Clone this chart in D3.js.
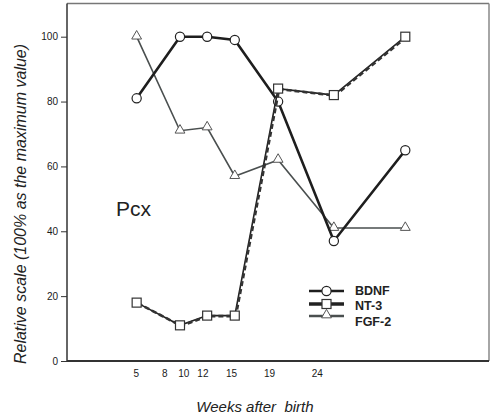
<!DOCTYPE html>
<html><head><meta charset="utf-8">
<script src="https://cdn.jsdelivr.net/npm/d3@7/dist/d3.min.js"></script>
<style>
body{margin:0;background:#fff;}
svg{display:block;font-family:"Liberation Sans",Arial,sans-serif;}
</style></head>
<body><svg id="c" width="490" height="420"></svg>
<script>
// ---- data ----
const tickWeeks = [5, 8, 10, 12, 15, 19, 24];
const pointWeeks = [5.1, 9.65, 12.5, 15.4, 19.95, 25.8, 33.3];
const bdnf = [81, 100, 100, 99, 80, 37, 65];
const nt3 = [18, 11, 14, 14, 84, 82, 100];
const fgf2 = [100, 71, 72, 57, 62, 41, 41];
const yTicks = [0, 20, 40, 60, 80, 100];

const svg = d3.select("#c");
const L = 67, R = 489, T = 3.5, B = 361;
const x = d3.scaleLinear().domain([5, 24]).range([135.7, 316.7]);
const y = d3.scaleLinear().domain([0, 100]).range([B, 36.7]);

// frame
svg.append("line").attr("x1", L).attr("x2", R).attr("y1", T).attr("y2", T).attr("stroke", "#777").attr("stroke-width", 1.5);
svg.append("line").attr("x1", R).attr("x2", R).attr("y1", T).attr("y2", B).attr("stroke", "#888").attr("stroke-width", 1.5);

// y axis
const yAxis = d3.axisLeft(y).tickValues(yTicks).tickSize(6).tickPadding(3);
const gy = svg.append("g").attr("transform", `translate(${L},0)`).call(yAxis);
gy.select(".domain").attr("d", `M0,${T}V${B}`).attr("stroke", "#333").attr("stroke-width", 1.5);
gy.selectAll(".tick line").attr("stroke", "#333");
gy.selectAll(".tick text").attr("font-size", 10).attr("fill", "#1a1a1a").attr("font-family", "Liberation Sans, Arial, sans-serif");

// x axis
const xAxis = d3.axisBottom(x).tickValues(tickWeeks).tickSize(0).tickPadding(9);
const gx = svg.append("g").attr("transform", `translate(0,${B})`).call(xAxis);
gx.select(".domain").attr("d", `M${L},0H${R}`).attr("stroke", "#333").attr("stroke-width", 2.2);
gx.selectAll(".tick text").attr("font-size", 10).attr("fill", "#1a1a1a").attr("font-family", "Liberation Sans, Arial, sans-serif");

const line = d3.line().x((d, i) => x(pointWeeks[i])).y(d => y(d));

// FGF-2
svg.append("path").datum(fgf2).attr("d", line).attr("fill", "none").attr("stroke", "#4a4f4f").attr("stroke-width", 1.6);
const tri = d3.symbol().type(d3.symbolTriangle).size(42);
svg.selectAll(".tri").data(fgf2).enter().append("path")
  .attr("transform", (d, i) => `translate(${x(pointWeeks[i])},${y(d) - 0.5})`)
  .attr("d", tri).attr("fill", "#fff").attr("stroke", "#555").attr("stroke-width", 1);

// BDNF
svg.append("path").datum(bdnf).attr("d", line).attr("fill", "none").attr("stroke", "#1e1e1e").attr("stroke-width", 2.6);
svg.selectAll(".circ").data(bdnf).enter().append("circle")
  .attr("cx", (d, i) => x(pointWeeks[i])).attr("cy", d => y(d)).attr("r", 4.6)
  .attr("fill", "#fff").attr("stroke", "#222").attr("stroke-width", 1.2);

// NT-3
svg.append("path").datum(nt3).attr("d", line).attr("fill", "none").attr("stroke", "#222").attr("stroke-width", 1.6);
svg.append("path").datum(nt3).attr("d", line).attr("fill", "none").attr("stroke", "#333").attr("stroke-width", 2.6)
  .attr("stroke-dasharray", "5,3").attr("transform", "translate(1,0.5)");
svg.selectAll(".sq").data(nt3).enter().append("rect")
  .attr("x", (d, i) => x(pointWeeks[i]) - 4.5).attr("y", d => y(d) - 4.5).attr("width", 9).attr("height", 9)
  .attr("fill", "#fff").attr("stroke", "#333").attr("stroke-width", 1.2);

// Pcx
svg.append("text").attr("x", 116).attr("y", 216).attr("font-size", 21).attr("fill", "#222").text("Pcx");

// legend
const lx1 = 309, lx2 = 344, lxc = 326.5;
svg.append("line").attr("x1", lx1).attr("x2", lx2).attr("y1", 291).attr("y2", 291).attr("stroke", "#1e1e1e").attr("stroke-width", 2.6);
svg.append("circle").attr("cx", lxc).attr("cy", 291).attr("r", 4.6).attr("fill", "#fff").attr("stroke", "#222").attr("stroke-width", 1.2);
svg.append("line").attr("x1", lx1).attr("x2", lx2).attr("y1", 304).attr("y2", 304).attr("stroke", "#222").attr("stroke-width", 3.6);
svg.append("rect").attr("x", lxc - 4.5).attr("y", 299.5).attr("width", 9).attr("height", 9).attr("fill", "#fff").attr("stroke", "#333").attr("stroke-width", 1.2);
svg.append("line").attr("x1", lx1).attr("x2", lx2).attr("y1", 316).attr("y2", 316).attr("stroke", "#4a4f4f").attr("stroke-width", 2.6);
svg.append("path").attr("transform", `translate(${lxc},${315})`).attr("d", tri).attr("fill", "#fff").attr("stroke", "#555").attr("stroke-width", 1);
const legNames = ["BDNF", "NT-3", "FGF-2"];
const legY = [295, 310, 325.5];
svg.selectAll(".lt").data(legNames).enter().append("text")
  .attr("x", 355).attr("y", (d, i) => legY[i]).attr("font-size", 12.5).attr("font-weight", "bold").attr("fill", "#222").text(d => d);

// axis titles
svg.append("text").attr("x", 255).attr("y", 412).attr("text-anchor", "middle").attr("font-size", 15)
  .attr("font-style", "italic").attr("fill", "#222").style("white-space", "pre").text("Weeks after  birth");
svg.append("text").attr("transform", "translate(26,204) rotate(-90)").attr("text-anchor", "middle").attr("font-size", 16)
  .attr("font-style", "italic").attr("fill", "#222").text("Relative scale (100% as the maximum value)");
</script></body></html>
